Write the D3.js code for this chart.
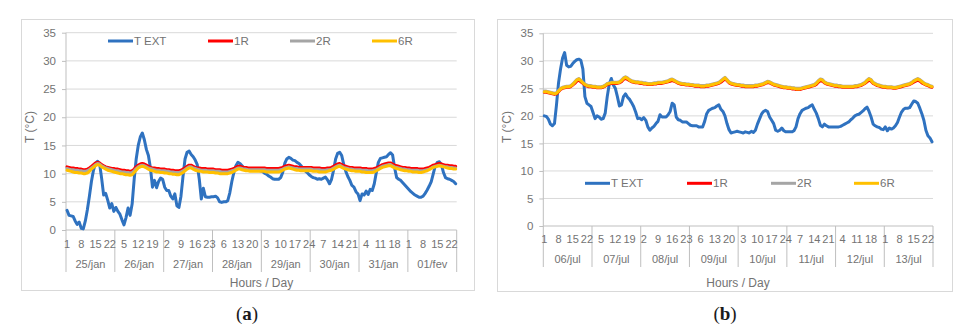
<!DOCTYPE html>
<html>
<head>
<meta charset="utf-8">
<script src="https://cdn.jsdelivr.net/npm/d3@7"></script>
<style>
  body { margin: 0; background: #fff; }
  svg { display: block; font-family: "Liberation Sans", Arial, sans-serif; }
</style>
</head>
<body>
<script>
// ---- data (hourly, 8 days each) ----
const seriesNames = ["T EXT", "1R", "2R", "6R"];
const seriesColors = ["#2f72c0", "#ff0000", "#a5a5a5", "#ffc000"];
const yTicks = [0, 5, 10, 15, 20, 25, 30, 35];

const daysJan = ["25/jan", "26/jan", "27/jan", "28/jan", "29/jan", "30/jan", "31/jan", "01/fev"];
const daysJul = ["06/jul", "07/jul", "08/jul", "09/jul", "10/jul", "11/jul", "12/jul", "13/jul"];

const janText = [
  3.5, 2.6, 2.5, 2.4, 1.6, 1.0, 1.4, 0.3, 0.2, 1.6, 3.6, 6.0, 8.6, 10.6, 11.8, 12.2, 11.8, 9.2, 6.2, 6.5, 5.3, 3.9, 4.7, 3.3,
  4.0, 3.3, 2.8, 1.8, 0.9, 2.2, 3.9, 2.6, 4.6, 9.0, 12.6, 15.0, 16.5, 17.2, 16.0, 14.3, 13.2, 11.0, 7.6, 8.8, 7.5, 8.6, 9.2, 9.0,
  7.6, 7.0, 7.0, 6.0, 5.5, 6.4, 4.3, 4.0, 6.0, 9.5, 12.6, 13.8, 14.0, 13.4, 13.0, 12.4, 11.6, 9.0, 5.5, 7.4, 5.9, 5.8, 5.8, 5.9,
  5.9, 6.0, 5.7, 5.0, 4.9, 5.0, 5.0, 5.2, 6.6, 8.6, 10.2, 11.4, 12.0, 11.8, 11.4, 11.0, 10.9, 10.8, 10.9, 10.8, 10.8, 10.7, 10.6, 10.5,
  10.4, 10.1, 9.9, 9.6, 9.4, 9.1, 9.0, 9.0, 9.0, 9.3, 10.2, 11.8, 12.6, 12.9, 12.7, 12.4, 12.3, 12.0, 11.8, 11.4, 10.9, 10.5, 10.2, 9.8,
  9.5, 9.3, 9.2, 9.0, 9.1, 9.0, 9.2, 9.4, 8.9, 8.2, 9.0, 10.6, 12.6, 13.6, 13.8, 13.2, 11.6, 10.4, 9.5, 8.8, 7.9, 7.6, 6.8, 6.4,
  5.2, 6.4, 6.2, 6.9, 6.3, 7.2, 7.0, 8.2, 10.2, 12.0, 12.7, 12.8, 12.9, 13.0, 13.4, 13.7, 13.3, 11.0, 9.3, 9.0, 8.8, 8.4, 8.0, 7.6,
  7.2, 6.8, 6.5, 6.2, 6.0, 5.8, 5.8, 6.0, 6.5, 7.1, 7.8, 8.6, 10.0, 11.4, 12.0, 12.1, 11.6, 10.2, 9.3, 9.1, 9.0, 8.8, 8.6, 8.2
];
const jan1R = [
  11.2, 11.1, 11.0, 11.0, 10.9, 10.9, 10.8, 10.8, 10.7, 10.7, 10.8, 11.0, 11.3, 11.6, 11.9, 12.0, 11.9, 11.6, 11.4, 11.2, 11.1, 11.0, 10.9, 10.9,
  10.8, 10.8, 10.7, 10.6, 10.6, 10.5, 10.5, 10.4, 10.5, 10.8, 11.2, 11.5, 11.7, 11.8, 11.7, 11.5, 11.3, 11.1, 11.0, 11.0, 10.9, 10.9, 10.8, 10.8,
  10.8, 10.7, 10.7, 10.6, 10.6, 10.5, 10.5, 10.5, 10.6, 10.8, 11.0, 11.3, 11.5, 11.5, 11.3, 11.1, 11.0, 11.0, 10.9, 10.9, 10.9, 10.8, 10.8, 10.8,
  10.8, 10.7, 10.7, 10.7, 10.6, 10.6, 10.6, 10.6, 10.7, 10.8, 10.9, 11.1, 11.3, 11.3, 11.2, 11.1, 11.1, 11.0, 11.0, 11.0, 11.0, 11.0, 11.0, 11.0,
  11.0, 11.0, 10.9, 10.9, 10.9, 10.9, 10.9, 10.9, 10.9, 11.0, 11.1, 11.3, 11.4, 11.5, 11.4, 11.3, 11.2, 11.2, 11.1, 11.1, 11.1, 11.1, 11.1, 11.1,
  11.1, 11.0, 11.0, 11.0, 11.0, 10.9, 10.9, 10.9, 11.0, 11.0, 11.1, 11.3, 11.5, 11.7, 11.8, 11.6, 11.4, 11.3, 11.2, 11.1, 11.1, 11.0, 11.0, 11.0,
  11.0, 10.9, 10.9, 10.9, 10.8, 10.8, 10.8, 10.9, 11.0, 11.2, 11.4, 11.6, 11.7, 11.8, 11.9, 11.9, 11.7, 11.5, 11.4, 11.3, 11.2, 11.1, 11.1, 11.0,
  11.0, 10.9, 10.9, 10.9, 10.9, 10.8, 10.8, 10.8, 10.9, 11.0, 11.1, 11.3, 11.5, 11.6, 11.7, 11.8, 11.7, 11.6, 11.5, 11.5, 11.4, 11.4, 11.3, 11.3
];
const jan2R = [
  10.9, 10.8, 10.7, 10.7, 10.6, 10.6, 10.5, 10.5, 10.4, 10.4, 10.5, 10.7, 11.0, 11.3, 11.6, 11.8, 11.7, 11.4, 11.2, 11.0, 10.9, 10.8, 10.7, 10.6,
  10.5, 10.5, 10.4, 10.3, 10.3, 10.2, 10.2, 10.1, 10.2, 10.5, 10.9, 11.2, 11.4, 11.5, 11.4, 11.2, 11.0, 10.9, 10.8, 10.7, 10.6, 10.6, 10.5, 10.5,
  10.5, 10.4, 10.4, 10.3, 10.3, 10.2, 10.2, 10.2, 10.3, 10.5, 10.7, 11.0, 11.2, 11.2, 11.0, 10.9, 10.8, 10.7, 10.6, 10.6, 10.6, 10.5, 10.5, 10.5,
  10.5, 10.4, 10.4, 10.4, 10.3, 10.3, 10.3, 10.3, 10.4, 10.5, 10.6, 10.8, 11.0, 11.0, 10.9, 10.8, 10.8, 10.7, 10.7, 10.7, 10.7, 10.7, 10.7, 10.7,
  10.7, 10.7, 10.6, 10.6, 10.6, 10.6, 10.6, 10.6, 10.6, 10.7, 10.8, 11.0, 11.1, 11.2, 11.1, 11.0, 10.9, 10.9, 10.8, 10.8, 10.8, 10.8, 10.8, 10.8,
  10.8, 10.7, 10.7, 10.7, 10.7, 10.6, 10.6, 10.6, 10.7, 10.7, 10.8, 11.0, 11.2, 11.4, 11.5, 11.3, 11.1, 11.0, 10.9, 10.8, 10.8, 10.7, 10.7, 10.7,
  10.7, 10.6, 10.6, 10.6, 10.5, 10.5, 10.5, 10.6, 10.7, 10.9, 11.1, 11.3, 11.4, 11.5, 11.6, 11.6, 11.4, 11.2, 11.1, 11.0, 10.9, 10.8, 10.8, 10.7,
  10.7, 10.6, 10.6, 10.6, 10.6, 10.5, 10.5, 10.5, 10.6, 10.7, 10.8, 11.0, 11.2, 11.3, 11.4, 11.5, 11.4, 11.3, 11.2, 11.2, 11.1, 11.1, 11.0, 11.0
];
const jan6R = [
  10.6, 10.5, 10.4, 10.3, 10.2, 10.2, 10.1, 10.1, 10.0, 10.0, 10.1, 10.4, 10.8, 11.1, 11.4, 11.6, 11.5, 11.2, 11.0, 10.8, 10.6, 10.5, 10.4, 10.3,
  10.2, 10.1, 10.0, 10.0, 9.9, 9.8, 9.8, 9.7, 9.8, 10.2, 10.6, 11.0, 11.2, 11.3, 11.2, 11.0, 10.8, 10.6, 10.5, 10.4, 10.3, 10.3, 10.2, 10.2,
  10.1, 10.1, 10.0, 10.0, 9.9, 9.9, 9.8, 9.8, 10.0, 10.2, 10.5, 10.8, 11.0, 11.0, 10.8, 10.6, 10.5, 10.4, 10.4, 10.3, 10.3, 10.3, 10.2, 10.2,
  10.2, 10.1, 10.1, 10.0, 10.0, 10.0, 10.0, 10.0, 10.1, 10.2, 10.4, 10.6, 10.8, 10.8, 10.7, 10.6, 10.5, 10.5, 10.4, 10.4, 10.4, 10.4, 10.4, 10.4,
  10.4, 10.4, 10.3, 10.3, 10.3, 10.3, 10.3, 10.3, 10.3, 10.4, 10.6, 10.8, 10.9, 11.0, 10.9, 10.8, 10.7, 10.6, 10.6, 10.5, 10.5, 10.5, 10.5, 10.5,
  10.5, 10.4, 10.4, 10.4, 10.3, 10.3, 10.3, 10.3, 10.4, 10.5, 10.6, 10.8, 11.0, 11.2, 11.3, 11.1, 10.9, 10.8, 10.7, 10.6, 10.5, 10.5, 10.4, 10.4,
  10.4, 10.3, 10.3, 10.2, 10.2, 10.2, 10.2, 10.3, 10.5, 10.7, 10.9, 11.1, 11.2, 11.3, 11.4, 11.4, 11.2, 11.0, 10.9, 10.8, 10.7, 10.6, 10.5, 10.5,
  10.4, 10.4, 10.3, 10.3, 10.3, 10.2, 10.2, 10.3, 10.4, 10.5, 10.7, 10.9, 11.1, 11.2, 11.3, 11.4, 11.3, 11.2, 11.1, 11.0, 10.9, 10.9, 10.8, 10.8
];

const julText = [
  20.0, 19.9, 19.4, 18.5, 18.2, 18.6, 22.0, 26.0, 28.5, 30.5, 31.5, 29.2, 28.9, 29.0, 29.5, 29.9, 30.2, 30.3, 30.1, 28.5, 23.5, 22.3, 22.0, 21.7,
  20.6, 19.5, 20.0, 19.8, 19.4, 19.5, 20.5, 23.5, 25.8, 26.8, 25.6, 25.0, 23.5, 21.8, 22.0, 23.5, 24.0, 23.4, 23.0, 22.4, 21.7, 20.7, 19.5, 19.6,
  19.3, 19.7, 19.2, 18.0, 17.4, 17.8, 18.1, 18.6, 19.0, 20.2, 19.8, 19.8, 19.8, 20.2, 20.8, 22.3, 22.0, 19.8, 19.3, 19.2, 18.9, 18.9, 18.9, 18.6,
  18.3, 18.2, 18.2, 18.2, 18.0, 18.0, 18.0, 19.0, 20.4, 21.0, 21.2, 21.4, 21.5, 21.8, 22.0, 21.2, 20.8, 20.0, 18.6, 17.5, 16.9, 17.0, 17.1, 17.2,
  17.1, 17.0, 16.9, 17.1, 17.0, 16.9, 17.2, 17.0, 17.4, 18.5, 19.4, 20.3, 20.8, 21.0, 20.8, 19.8, 19.2, 18.6, 17.4, 17.2, 17.4, 17.8, 17.3, 17.1,
  17.1, 17.1, 17.1, 17.3, 18.0, 19.5, 20.4, 21.0, 21.2, 21.4, 21.5, 21.8, 22.0, 21.2, 20.5, 19.5, 18.3, 18.0, 18.5, 18.2, 18.0, 18.0, 18.0, 18.0,
  18.0, 18.0, 18.1, 18.3, 18.5, 18.7, 18.9, 19.3, 19.6, 20.0, 20.2, 20.3, 20.6, 20.9, 21.3, 21.6, 20.8, 19.8, 18.5, 18.2, 18.0, 17.9, 17.6, 17.5,
  18.0, 17.3, 17.8, 17.6, 17.8, 18.2, 18.8, 19.8, 20.7, 21.2, 21.4, 21.4, 21.5, 22.1, 22.7, 22.6, 22.3, 21.4, 20.4, 19.2, 17.4, 16.4, 16.0, 15.3
];
const jul1R = [
  24.3, 24.3, 24.2, 24.1, 24.0, 23.9, 24.0, 24.4, 24.8, 25.0, 25.1, 25.2, 25.2, 25.3, 25.6, 25.9, 26.3, 26.5, 26.2, 25.9, 25.6, 25.4, 25.3, 25.3,
  25.2, 25.2, 25.1, 25.1, 25.1, 25.2, 25.4, 25.7, 25.8, 25.9, 25.9, 25.9, 25.9, 26.0, 26.2, 26.6, 26.8, 26.6, 26.4, 26.2, 26.1, 26.0, 26.0, 25.9,
  25.9, 25.8, 25.8, 25.7, 25.7, 25.7, 25.8, 25.8, 25.9, 25.9, 25.9, 26.0, 26.1, 26.2, 26.3, 26.4, 26.3, 26.1, 25.9, 25.8, 25.7, 25.7, 25.6, 25.6,
  25.5, 25.5, 25.4, 25.4, 25.4, 25.3, 25.3, 25.3, 25.4, 25.4, 25.5, 25.6, 25.7, 25.8, 25.9, 26.1, 26.4, 26.7, 26.4, 26.0, 25.8, 25.7, 25.6, 25.5,
  25.5, 25.4, 25.4, 25.3, 25.3, 25.3, 25.3, 25.3, 25.4, 25.4, 25.5, 25.6, 25.7, 25.9, 26.0, 26.0, 25.8, 25.6, 25.5, 25.4, 25.3, 25.2, 25.1, 25.1,
  25.0, 25.0, 24.9, 24.9, 24.8, 24.8, 24.8, 24.9, 25.0, 25.1, 25.2, 25.3, 25.4, 25.5, 25.7, 26.1, 26.4, 26.3, 26.0, 25.8, 25.7, 25.6, 25.5, 25.4,
  25.4, 25.3, 25.3, 25.2, 25.2, 25.2, 25.2, 25.2, 25.2, 25.3, 25.3, 25.4, 25.5, 25.7, 25.9, 26.2, 26.5, 26.3, 25.9, 25.7, 25.5, 25.4, 25.3, 25.2,
  25.2, 25.1, 25.1, 25.1, 25.0, 25.0, 25.1, 25.2, 25.3, 25.4, 25.5, 25.6, 25.7, 25.9, 26.1, 26.3, 26.5, 26.3, 26.0, 25.8, 25.6, 25.5, 25.3, 25.2
];
const jul2R = [
  24.5, 24.5, 24.4, 24.3, 24.2, 24.1, 24.2, 24.6, 25.0, 25.2, 25.3, 25.4, 25.4, 25.5, 25.8, 26.2, 26.6, 26.8, 26.5, 26.1, 25.8, 25.6, 25.5, 25.5,
  25.4, 25.4, 25.3, 25.3, 25.3, 25.4, 25.6, 25.9, 26.0, 26.1, 26.1, 26.1, 26.1, 26.2, 26.5, 26.9, 27.1, 26.9, 26.6, 26.4, 26.3, 26.2, 26.2, 26.1,
  26.1, 26.0, 26.0, 25.9, 25.9, 25.9, 26.0, 26.0, 26.1, 26.1, 26.1, 26.2, 26.3, 26.4, 26.6, 26.7, 26.5, 26.3, 26.1, 26.0, 25.9, 25.9, 25.8, 25.8,
  25.7, 25.7, 25.6, 25.6, 25.6, 25.5, 25.5, 25.5, 25.6, 25.6, 25.7, 25.8, 25.9, 26.0, 26.1, 26.4, 26.7, 27.0, 26.6, 26.2, 26.0, 25.9, 25.8, 25.7,
  25.7, 25.6, 25.6, 25.5, 25.5, 25.5, 25.5, 25.5, 25.6, 25.6, 25.7, 25.8, 25.9, 26.1, 26.3, 26.2, 26.0, 25.8, 25.7, 25.6, 25.5, 25.4, 25.3, 25.3,
  25.2, 25.2, 25.1, 25.1, 25.0, 25.0, 25.0, 25.1, 25.2, 25.3, 25.4, 25.5, 25.6, 25.7, 26.0, 26.4, 26.7, 26.6, 26.2, 26.0, 25.9, 25.8, 25.7, 25.6,
  25.6, 25.5, 25.5, 25.4, 25.4, 25.4, 25.4, 25.4, 25.4, 25.5, 25.5, 25.6, 25.7, 25.9, 26.1, 26.5, 26.8, 26.6, 26.1, 25.9, 25.7, 25.6, 25.5, 25.4,
  25.4, 25.3, 25.3, 25.3, 25.2, 25.2, 25.3, 25.4, 25.5, 25.6, 25.7, 25.8, 25.9, 26.1, 26.4, 26.6, 26.8, 26.6, 26.3, 26.0, 25.8, 25.7, 25.5, 25.4
];
const jul6R = [
  24.4, 24.4, 24.3, 24.2, 24.1, 24.0, 24.1, 24.5, 24.9, 25.1, 25.2, 25.3, 25.3, 25.4, 25.7, 26.1, 26.5, 26.7, 26.4, 26.0, 25.7, 25.5, 25.4, 25.4,
  25.3, 25.3, 25.2, 25.2, 25.2, 25.3, 25.5, 25.8, 25.9, 26.0, 26.0, 26.0, 26.0, 26.1, 26.4, 26.8, 27.0, 26.8, 26.5, 26.3, 26.2, 26.1, 26.1, 26.0,
  26.0, 25.9, 25.9, 25.8, 25.8, 25.8, 25.9, 25.9, 26.0, 26.0, 26.0, 26.1, 26.2, 26.3, 26.5, 26.6, 26.4, 26.2, 26.0, 25.9, 25.8, 25.8, 25.7, 25.7,
  25.6, 25.6, 25.5, 25.5, 25.5, 25.4, 25.4, 25.4, 25.5, 25.5, 25.6, 25.7, 25.8, 25.9, 26.0, 26.3, 26.6, 26.9, 26.5, 26.1, 25.9, 25.8, 25.7, 25.6,
  25.6, 25.5, 25.5, 25.4, 25.4, 25.4, 25.4, 25.4, 25.5, 25.5, 25.6, 25.7, 25.8, 26.0, 26.2, 26.1, 25.9, 25.7, 25.6, 25.5, 25.4, 25.3, 25.2, 25.2,
  25.1, 25.1, 25.0, 25.0, 24.9, 24.9, 24.9, 25.0, 25.1, 25.2, 25.3, 25.4, 25.5, 25.6, 25.9, 26.3, 26.6, 26.5, 26.1, 25.9, 25.8, 25.7, 25.6, 25.5,
  25.5, 25.4, 25.4, 25.3, 25.3, 25.3, 25.3, 25.3, 25.3, 25.4, 25.4, 25.5, 25.6, 25.8, 26.0, 26.4, 26.7, 26.5, 26.0, 25.8, 25.6, 25.5, 25.4, 25.3,
  25.3, 25.2, 25.2, 25.2, 25.1, 25.1, 25.2, 25.3, 25.4, 25.5, 25.6, 25.7, 25.8, 26.0, 26.3, 26.5, 26.7, 26.5, 26.2, 25.9, 25.7, 25.6, 25.4, 25.3
];

// ---- layout of the two panels ----
const charts = [
  {
    days: daysJan, series: [janText, jan1R, jan2R, jan6R], caption: "a",
    box: [21, 19, 474, 290], l: 66, r: 456.7, t: 32.7, b: 230,
    hourY: 244, dayY: 264, sepB: 272, titleX: 261.5, titleY: 282.5,
    legY: 41, legX: [108, 208, 290, 372], yTitleX: 30, capX: 247
  },
  {
    days: daysJul, series: [julText, jul1R, jul2R, jul6R], caption: "b",
    box: [497, 19, 952, 291], l: 543.3, r: 933, t: 33.3, b: 226,
    hourY: 239.5, dayY: 259.5, sepB: 267, titleX: 738, titleY: 282.5,
    legY: 183.3, legX: [585, 687, 771, 854], yTitleX: 507, capX: 725
  }
];

const textGray = "#737373";

const svg = d3.select("body").append("svg")
  .attr("width", 980)
  .attr("height", 332);

charts.forEach(drawChart);

function drawChart(c) {
  const n = c.series[0].length;
  const g = svg.append("g");

  g.append("rect")
    .attr("x", c.box[0] + 0.5).attr("y", c.box[1] + 0.5)
    .attr("width", c.box[2] - c.box[0]).attr("height", c.box[3] - c.box[1])
    .attr("fill", "#fff").attr("stroke", "#d9d9d9");

  const x = d3.scaleLinear().domain([0, n]).range([c.l, c.r]);
  const y = d3.scaleLinear().domain([0, 35]).range([c.b, c.t]);

  // gridlines
  g.selectAll(".grid")
    .data(yTicks.filter(v => v > 0))
    .enter().append("line")
    .attr("x1", c.l).attr("x2", c.r)
    .attr("y1", d => y(d)).attr("y2", d => y(d))
    .attr("stroke", "#d9d9d9").attr("stroke-width", 1);

  // y axis
  const yAxis = d3.axisLeft(y).tickValues(yTicks).tickSize(4).tickPadding(6);
  const ya = g.append("g").attr("transform", `translate(${c.l},0)`).call(yAxis);
  ya.select(".domain").remove();
  ya.selectAll(".tick line").attr("stroke", "#bfbfbf");
  ya.selectAll("text").attr("fill", textGray).attr("font-size", 11.5)
    .attr("font-family", "Liberation Sans, Arial, sans-serif");

  // axis lines
  g.append("line").attr("x1", c.l).attr("x2", c.l).attr("y1", c.t).attr("y2", c.sepB)
    .attr("stroke", "#bfbfbf");
  g.append("line").attr("x1", c.l).attr("x2", c.r).attr("y1", c.b).attr("y2", c.b)
    .attr("stroke", "#bfbfbf");

  // day separators
  const seps = d3.range(1, c.days.length + 1).map(k => k * 24);
  g.selectAll(".sep")
    .data(seps)
    .enter().append("line")
    .attr("x1", d => x(d)).attr("x2", d => x(d))
    .attr("y1", c.b).attr("y2", c.sepB)
    .attr("stroke", "#bfbfbf");

  // hour labels, every 7 hours
  const hourIdx = d3.range(0, n, 7);
  g.selectAll(".hour")
    .data(hourIdx)
    .enter().append("text")
    .attr("x", d => x(d + 0.5))
    .attr("y", c.hourY)
    .attr("dy", "0.35em")
    .attr("text-anchor", "middle")
    .attr("font-size", 11)
    .attr("fill", textGray)
    .text(d => (d % 24) + 1);

  // day labels
  g.selectAll(".day")
    .data(c.days)
    .enter().append("text")
    .attr("x", (d, i) => x(i * 24 + 12))
    .attr("y", c.dayY)
    .attr("dy", "0.35em")
    .attr("text-anchor", "middle")
    .attr("font-size", 11)
    .attr("fill", textGray)
    .text(d => d);

  // axis titles
  g.append("text")
    .attr("x", c.titleX).attr("y", c.titleY).attr("dy", "0.35em")
    .attr("text-anchor", "middle").attr("font-size", 12).attr("fill", textGray)
    .text("Hours / Day");
  g.append("text")
    .attr("transform", `translate(${c.yTitleX},127) rotate(-90)`)
    .attr("dy", "0.35em")
    .attr("text-anchor", "middle").attr("font-size", 12).attr("fill", textGray)
    .text("T (°C)");

  // series
  const line = d3.line()
    .x((d, i) => x(i + 0.5))
    .y(d => y(d))
    .curve(d3.curveLinear);

  c.series.forEach((s, k) => {
    g.append("path")
      .datum(s)
      .attr("d", line)
      .attr("fill", "none")
      .attr("stroke", seriesColors[k])
      .attr("stroke-width", 3)
      .attr("stroke-linejoin", "round")
      .attr("stroke-linecap", "round");
  });

  // legend
  const leg = g.selectAll(".leg")
    .data(seriesNames)
    .enter().append("g")
    .attr("transform", (d, i) => `translate(${c.legX[i]},${c.legY})`);
  leg.append("line")
    .attr("x1", 0).attr("x2", 25).attr("y1", 0).attr("y2", 0)
    .attr("stroke", (d, i) => seriesColors[i]).attr("stroke-width", 3);
  leg.append("text")
    .attr("x", 26).attr("dy", "0.35em")
    .attr("font-size", 11.5).attr("fill", textGray)
    .text(d => d);

  // caption "(a)" with bold letter
  const cap = svg.append("text")
    .attr("x", c.capX).attr("y", 313).attr("dy", "0.35em")
    .attr("text-anchor", "middle")
    .attr("font-family", "Liberation Serif, Times New Roman, serif")
    .attr("font-size", 19).attr("fill", "#1a1a1a");
  cap.append("tspan").text("(");
  cap.append("tspan").attr("font-weight", "bold").text(c.caption);
  cap.append("tspan").text(")");
}
</script>
</body>
</html>
